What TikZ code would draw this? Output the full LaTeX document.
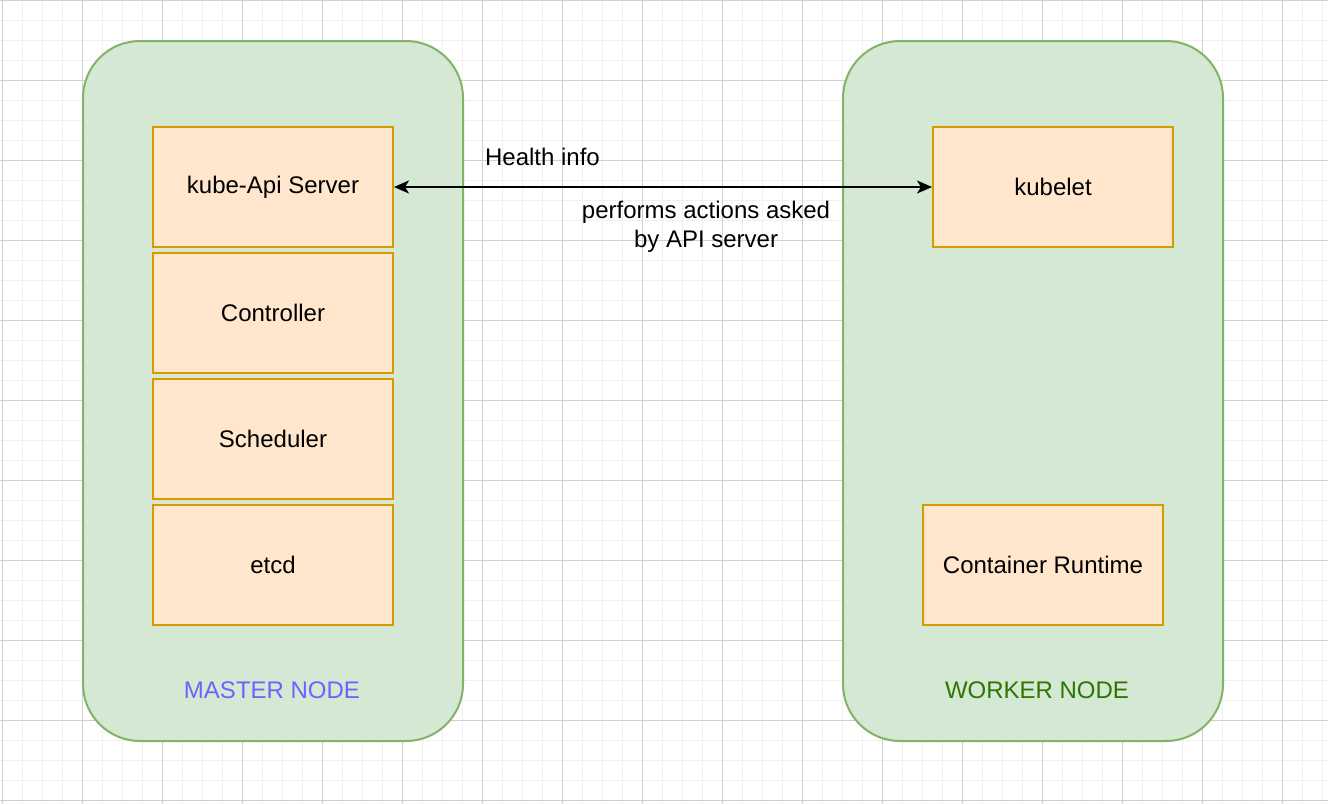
\documentclass[tikz,border=0pt]{standalone}
\usepackage{fontspec}
\setmainfont{Liberation Sans}
\usepackage{tikz}
\usetikzlibrary{positioning, arrows.meta}

\definecolor{gridminor}{HTML}{F0F0F0}
\definecolor{gridmajor}{HTML}{D0D0D0}
\definecolor{hostfill}{HTML}{D5E8D4}
\definecolor{hostline}{HTML}{82B366}
\definecolor{compfill}{HTML}{FFE6CC}
\definecolor{compline}{HTML}{D79B00}
\definecolor{mastertext}{HTML}{6666FF}
\definecolor{workertext}{HTML}{2D7600}

\begin{document}
\begin{tikzpicture}[x=0.5pt, y=-0.5pt,
    hostbox/.style={rectangle, rounded corners=28.5pt, draw=hostline, fill=hostfill, line width=1pt, minimum width=190pt, minimum height=350pt, inner sep=0pt},
    compbox/.style={rectangle, draw=compline, fill=compfill, line width=1pt, minimum width=120pt, minimum height=60pt, inner sep=0pt, font=\fontsize{12pt}{14.5pt}\selectfont},
    lbl/.style={font=\fontsize{12pt}{14.5pt}\selectfont, inner sep=0pt, align=center},
    arr/.style={{Stealth[length=7.5pt, width=6.5pt, inset=2pt]}-{Stealth[length=7.5pt, width=6.5pt, inset=2pt]}, line width=1pt, #1}
]

% page and grid
\fill[white] (0,0) rectangle (1328,804);
\useasboundingbox (0,0) rectangle (1328,804);
\foreach \gx in {0,...,66} {
    \draw[gridminor, line width=0.5pt] (2+\gx*20, 0) -- (2+\gx*20, 804);
}
\foreach \gy in {0,...,40} {
    \draw[gridminor, line width=0.5pt] (0, \gy*20) -- (1328, \gy*20);
}
\foreach \gx in {0,...,16} {
    \draw[gridmajor, line width=0.5pt] (2+\gx*80, 0) -- (2+\gx*80, 804);
}
\foreach \gy in {0,...,10} {
    \draw[gridmajor, line width=0.5pt] (0, \gy*80) -- (1328, \gy*80);
}

% hosts
\node[hostbox] (master) at (273, 391) {};
\node[hostbox] (worker) at (1033, 391) {};

% master components
\node[compbox] (api) at (273, 187) {kube-Api Server};
\node[compbox, below=2pt of api] (ctrl) {Controller};
\node[compbox, below=2pt of ctrl] (sched) {Scheduler};
\node[compbox, below=2pt of sched] (etcd) {etcd};

% worker components
\node[compbox] (kubelet) at (1053, 187) {kubelet};
\node[compbox] (runtime) at (1043, 565) {Container Runtime};

\node[lbl, text=mastertext] (masterlbl) at (272, 690) {MASTER NODE};
\node[lbl, text=workertext] (workerlbl) at (1037, 690) {WORKER NODE};

\draw[arr=black] (api) -- (kubelet)
    node[lbl, pos=0.276, yshift=15pt] (health) {Health info}
    node[lbl, pos=0.58, yshift=-20pt] (actions) {performs actions asked\\by API server};

\end{tikzpicture}
\end{document}
